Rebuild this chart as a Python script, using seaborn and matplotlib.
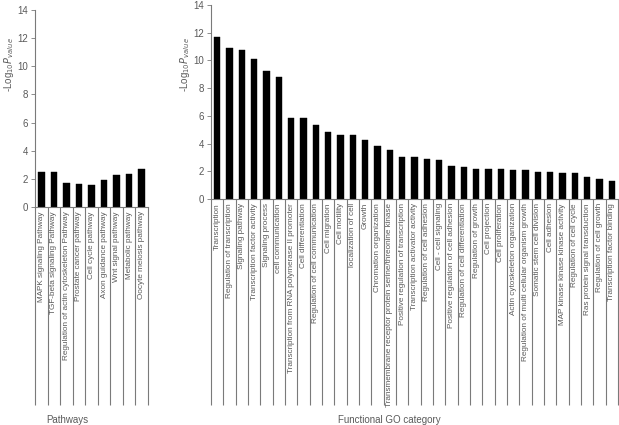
import numpy as np
import pandas as pd
import seaborn as sns
import matplotlib.pyplot as plt
import matplotlib.transforms as mtransforms

# pathway enrichment
pathways = ['MAPK signaling Pathway', 'TGF-beta signaling Pathway',
            'Regulation of actin cytoskeleton Pathway', 'Prostate cancer pathway',
            'Cell cycle pathway', 'Axon guidance pathway', 'Wnt signal pathway',
            'Metabolic pathway', 'Oocyte meiosis pathway']
pathway_vals = [2.47, 2.47, 1.70, 1.60, 1.53, 1.92, 2.25, 2.33, 2.73]

# GO category enrichment
go_terms = ['Transcription', 'Regulation of transcription', 'Signaling pathway',
            'Transcription factor activity', 'Signaling process', 'cell communication',
            'Transcription from RNA polymerase II promoter', 'Cell differentiation',
            'Regulation of cell communication', 'Cell migration', 'Cell motility',
            'localization of cell', 'Growth', 'Chromation organization',
            'Transmembrane receptor protein serine/threonine kinase',
            'Positive regulation of transcription', 'Transcription activator activity',
            'Regulation of cell adhesion', 'Cell - cell signaling',
            'Positive regulation of cell adhesion', 'Regulation of cell differentiation',
            'Regulation of growth', 'Cell projection', 'Cell proliferation',
            'Actin cytoskeleton organization', 'Regulation of multi cellular organism growth',
            'Somatic stem cell division', 'Cell adhesion', 'MAP kinase kinase kinase activity',
            'Regulation of cell cycle', 'Ras protein signal transduction',
            'Regulation of cell growth', 'Transcription factor binding']
go_vals = [11.7, 10.9, 10.78, 10.1, 9.22, 8.78, 5.88, 5.84, 5.36, 4.8, 4.59, 4.59,
           4.24, 3.82, 3.55, 3.06, 3.01, 2.87, 2.85, 2.38, 2.33, 2.16, 2.16, 2.16,
           2.09, 2.09, 1.98, 1.98, 1.9, 1.88, 1.6, 1.44, 1.32]

sns.set_style('white')
plt.rcParams['font.family'] = ['Liberation Sans', 'DejaVu Sans']

W, H = 619, 425
fig = plt.figure(figsize=(W / 100, H / 100), dpi=100)

grey = '#7a7a7a'
txt = '#5a5a5a'


def panel(rect, names, vals, line_drop):
    ax = fig.add_axes(rect)
    df = pd.DataFrame({'name': names, 'val': vals})
    sns.barplot(data=df, x='name', y='val', ax=ax, color='black', width=0.52,
                saturation=1, edgecolor='black', linewidth=0.3)
    n = len(names)
    ax.set_xlim(-0.5, n - 0.5)
    ax.set_ylim(0, 14)
    ax.set_yticks(range(0, 15, 2))
    ax.set_xticks(range(n))
    ax.set_xticklabels(names, rotation=90, va='top', ha='center',
                       fontsize=5.85, color=txt)
    ax.tick_params(axis='x', length=0, pad=3)
    ax.tick_params(axis='y', length=3, width=0.6, color=grey, labelsize=7,
                   labelcolor=txt, pad=2, direction='out', left=True)
    ax.set_xlabel('')
    ax.set_ylabel('')
    for s in ['top', 'right']:
        ax.spines[s].set_visible(False)
    for s in ['left', 'bottom']:
        ax.spines[s].set_color(grey)
        ax.spines[s].set_linewidth(0.8)
    # category boxes under the axis
    trans = mtransforms.blended_transform_factory(ax.transData, ax.transAxes)
    ax.vlines(np.arange(n + 1) - 0.5, -line_drop, 0, transform=trans,
              colors=grey, linewidth=0.8, clip_on=False)
    return ax


ax1 = panel([35 / W, 1 - 207 / H, 113 / W, 197 / H], pathways, pathway_vals, 198 / 197)
ax2 = panel([211 / W, 1 - 199 / H, 407 / W, 194 / H], go_terms, go_vals, 206 / 194)

ylab = r'-Log$_{10}$$P$$_{value}$'
fig.text(9 / W, 1 - 65 / H, ylab, rotation=90, ha='center', va='center',
         fontsize=7, color=txt)
fig.text(185 / W, 1 - 65 / H, ylab, rotation=90, ha='center', va='center',
         fontsize=7, color=txt)

fig.text(46 / W, 1 - 420 / H, 'Pathways', ha='left', va='center',
         fontsize=7, color=txt)
fig.text(389 / W, 1 - 420 / H, 'Functional GO category', ha='center', va='center',
         fontsize=7, color=txt)

fig.savefig('out.png', dpi=100)
